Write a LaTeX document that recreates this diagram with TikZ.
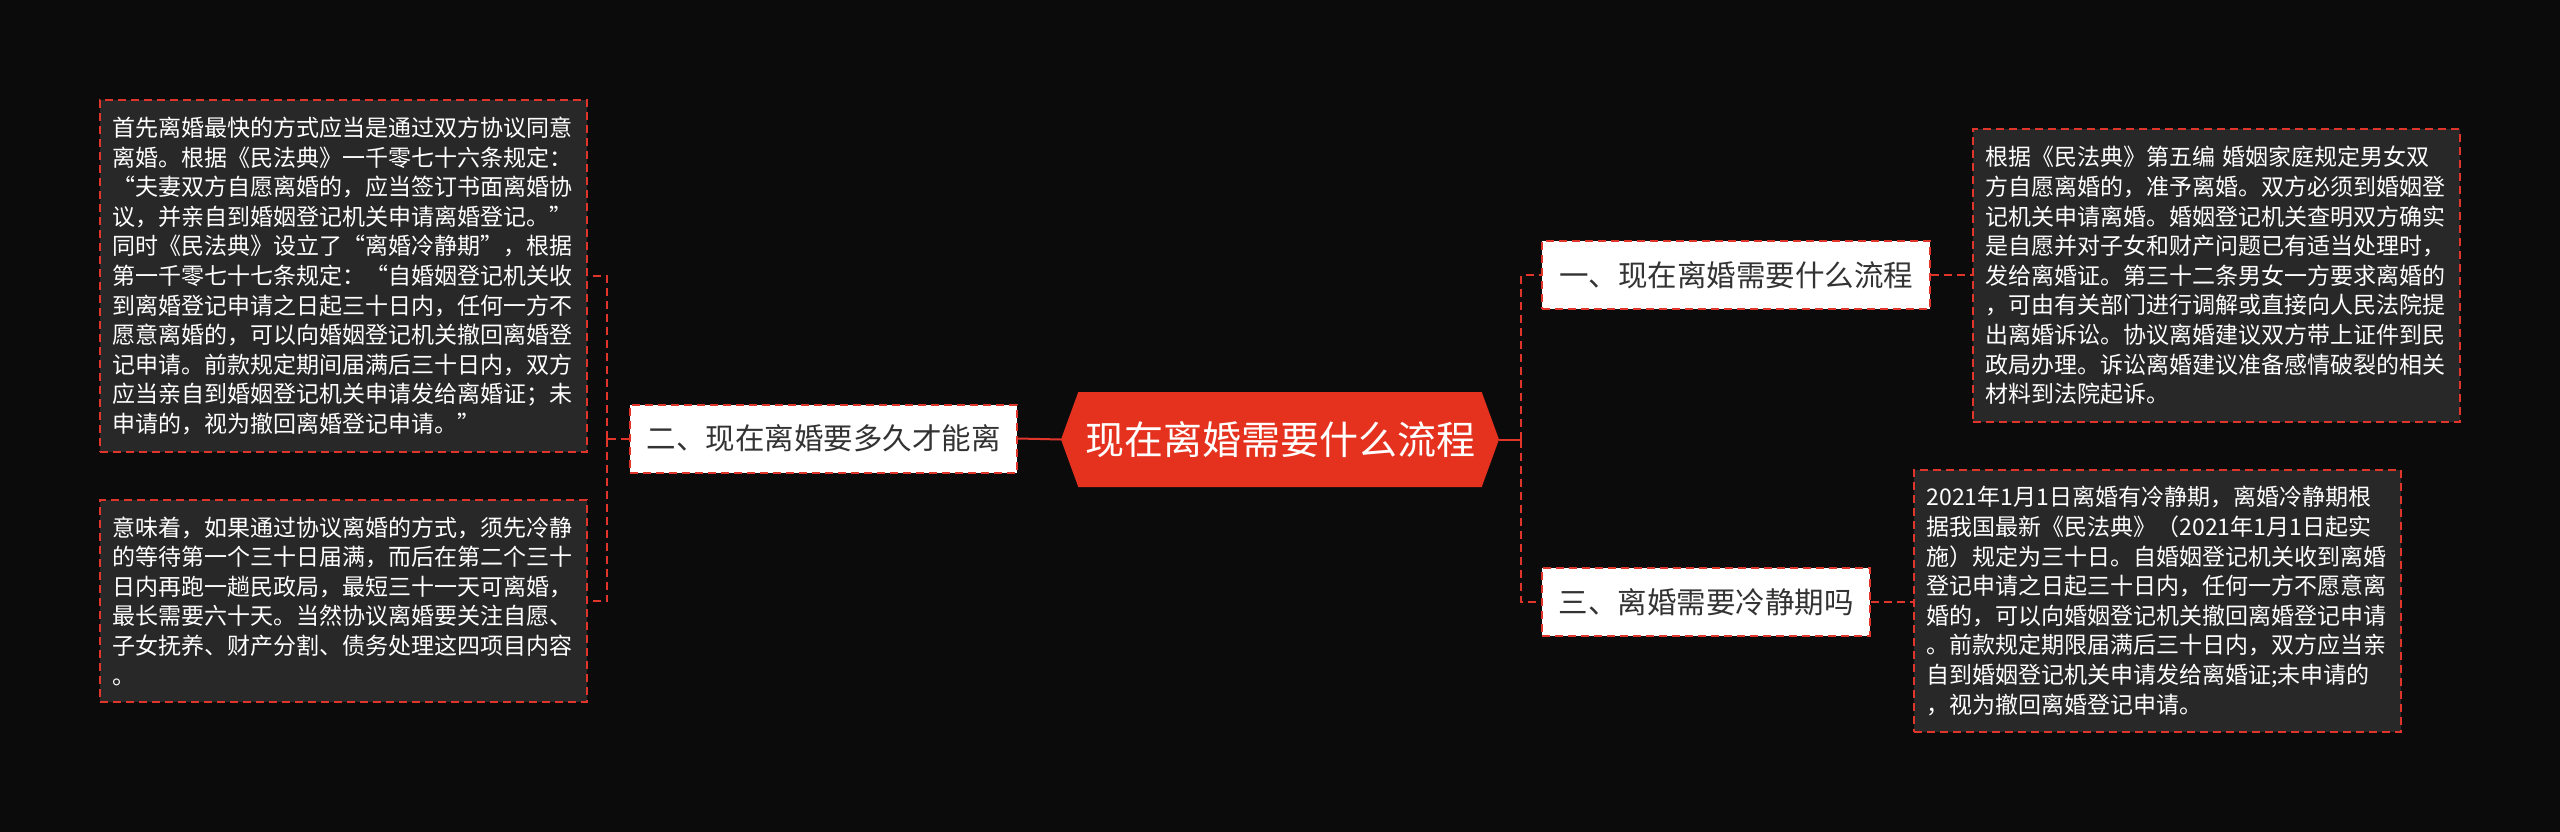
\documentclass[tikz,border=0pt]{standalone}
\usepackage{fontspec}
\setmainfont{Noto Sans CJK SC}
\usetikzlibrary{positioning,shapes.symbols}
\definecolor{nen}{HTML}{0C0B0C}
\definecolor{do}{HTML}{E5321F}
\definecolor{vien}{HTML}{E0352B}
\definecolor{hop}{HTML}{282828}
\definecolor{chu}{HTML}{333333}

\begin{document}
\begin{tikzpicture}[x=1pt, y=-1pt,
    noidung/.style={draw=vien, dashed, dash pattern=on 8pt off 5pt, line width=2pt,
        fill=hop, text=white, text width=462pt, align=left, inner xsep=12.5pt,
        font=\fontsize{23}{29.6}\selectfont},
    nhanh/.style={draw=vien, dashed, dash pattern=on 8pt off 5pt, line width=2pt,
        fill=white, text=chu, inner xsep=14pt, minimum height=68pt,
        font=\fontsize{29.5}{32}\selectfont},
    goc/.style={shape=signal, signal to=west and east, signal pointer angle=140,
        fill=do, text=white, minimum width=438pt, minimum height=95pt, inner sep=0pt,
        font=\fontsize{39}{42}\selectfont},
    noi/.style={draw=vien, line width=2pt},
    noinet/.style={noi, dash pattern=on 8pt off 5pt}]

    % Nền và khung ảnh
    \fill[nen] (0,0) rectangle (2560,832);
    \useasboundingbox (0,0) rectangle (2560,832);

    % Nút gốc
    \node[goc] (root) at (1280,439.5) {现在离婚需要什么流程};

    % Các nhánh chính
    \node[nhanh, minimum width=387pt] (b2) at (823.5,438.5) {二、现在离婚要多久才能离};
    \node[nhanh, minimum width=388pt] (b1) at (1736,275) {一、现在离婚需要什么流程};
    \node[nhanh, minimum width=328pt] (b3) at (1706,602) {三、离婚需要冷静期吗};

    % Các ô nội dung bên trái
    \node[noidung, minimum height=352pt] (lt) at (343,276) {%
        首先离婚最快的方式应当是通过双方协议同意\\
        离婚。根据《民法典》一千零七十六条规定：\\
        “夫妻双方自愿离婚的，应当签订书面离婚协\\
        议，并亲自到婚姻登记机关申请离婚登记。”\\
        同时《民法典》设立了“离婚冷静期”，根据\\
        第一千零七十七条规定：“自婚姻登记机关收\\
        到离婚登记申请之日起三十日内，任何一方不\\
        愿意离婚的，可以向婚姻登记机关撤回离婚登\\
        记申请。前款规定期间届满后三十日内，双方\\
        应当亲自到婚姻登记机关申请发给离婚证；未\\
        申请的，视为撤回离婚登记申请。”};
    \node[noidung, minimum height=202pt] (lb) at (343,601) {%
        意味着，如果通过协议离婚的方式，须先冷静\\
        的等待第一个三十日届满，而后在第二个三十\\
        日内再跑一趟民政局，最短三十一天可离婚，\\
        最长需要六十天。当然协议离婚要关注自愿、\\
        子女抚养、财产分割、债务处理这四项目内容\\
        。};

    % Các ô nội dung bên phải
    \node[noidung, minimum height=292pt] (rt) at (2216,275.5) {%
        根据《民法典》第五编 婚姻家庭规定男女双\\
        方自愿离婚的，准予离婚。双方必须到婚姻登\\
        记机关申请离婚。婚姻登记机关查明双方确实\\
        是自愿并对子女和财产问题已有适当处理时，\\
        发给离婚证。第三十二条男女一方要求离婚的\\
        ，可由有关部门进行调解或直接向人民法院提\\
        出离婚诉讼。协议离婚建议双方带上证件到民\\
        政局办理。诉讼离婚建议准备感情破裂的相关\\
        材料到法院起诉。};
    \node[noidung, minimum height=262pt] (rb) at (2157.5,601) {%
        2021年1月1日离婚有冷静期，离婚冷静期根\\
        据我国最新《民法典》（2021年1月1日起实\\
        施）规定为三十日。自婚姻登记机关收到离婚\\
        登记申请之日起三十日内，任何一方不愿意离\\
        婚的，可以向婚姻登记机关撤回离婚登记申请\\
        。前款规定期限届满后三十日内，双方应当亲\\
        自到婚姻登记机关申请发给离婚证;未申请的\\
        ，视为撤回离婚登记申请。};

    % Đường nối
    \coordinate (lj) at (607,438.5);
    \coordinate (rj) at (1521,439.5);
    \draw[noi] (root.west) -- (b2.east);
    \draw[noi] (root.east) -- (rj);
    \draw[noinet] (b2.west) -- (lj);
    \draw[noinet] (lj) |- (lt.east);
    \draw[noinet] (lj) |- (lb.east);
    \draw[noinet] (rj) |- (b1.west);
    \draw[noinet] (rj) |- (b3.west);
    \draw[noinet] (b1.east) -- (b1.east -| rt.west);
    \draw[noinet] (b3.east) -- (b3.east -| rb.west);

\end{tikzpicture}
\end{document}
